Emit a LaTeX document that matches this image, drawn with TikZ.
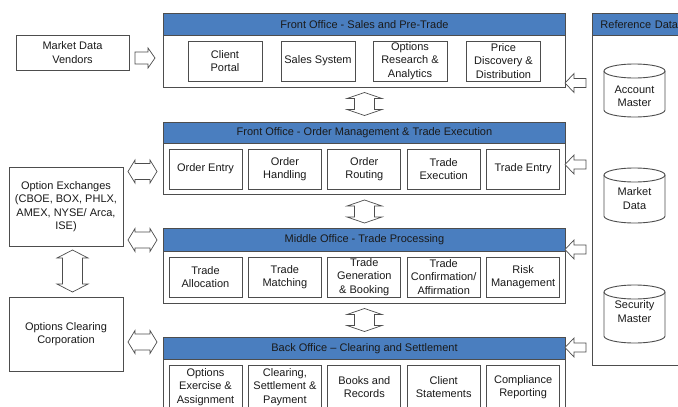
\documentclass[tikz,border=0pt]{standalone}
\usepackage{fontspec}
\setmainfont{Liberation Sans}
\usetikzlibrary{calc}
\definecolor{hdrblue}{HTML}{4A7EBF}
\definecolor{edgegray}{HTML}{4D4D4D}
\definecolor{txt}{HTML}{1A1A1A}
% single block arrow: name, cx, cy, rotate, length, head width, shaft width, head length
\newcommand\sarr[8]{\coordinate (#1) at (#2,#3);
  \draw[blk, shift={(#1)}, rotate=#4] ({-#5/2},{-#7/2}) -- ({#5/2-#8},{-#7/2}) -- ({#5/2-#8},{-#6/2}) -- ({#5/2},0) -- ({#5/2-#8},{#6/2}) -- ({#5/2-#8},{#7/2}) -- ({-#5/2},{#7/2}) -- cycle;}
% double block arrow: same arguments
\newcommand\darr[8]{\coordinate (#1) at (#2,#3);
  \draw[blk, shift={(#1)}, rotate=#4] ({-#5/2},0) -- ({-#5/2+#8},{-#6/2}) -- ({-#5/2+#8},{-#7/2}) -- ({#5/2-#8},{-#7/2}) -- ({#5/2-#8},{-#6/2}) -- ({#5/2},0) -- ({#5/2-#8},{#6/2}) -- ({#5/2-#8},{#7/2}) -- ({-#5/2+#8},{#7/2}) -- ({-#5/2+#8},{#6/2}) -- cycle;}
\begin{document}
\begin{tikzpicture}[x=1pt,y=-1pt,
  font=\fontsize{11}{13.3}\selectfont, text=txt,
  panel/.style={draw=edgegray, line width=0.9pt, fill=white, inner sep=0pt, anchor=north west},
  hdr/.style={draw=edgegray, line width=0.9pt, fill=hdrblue, inner sep=0pt, anchor=north west, minimum height=22pt},
  item/.style={draw=edgegray, line width=0.9pt, fill=white, minimum width=73pt, minimum height=40pt, inner sep=1pt, align=center},
  extbox/.style={draw=edgegray, line width=0.9pt, fill=white, inner sep=1pt, align=center},
  plain/.style={inner sep=0pt, align=center},
  cylline/.style={draw=edgegray, line width=0.9pt},
  blk/.style={draw=edgegray, line width=0.7pt, fill=white, line join=miter},
]
\path[use as bounding box, clip] (0,0) rectangle (678,407);
\fill[white] (0,0) rectangle (678,407);

% ---------- Front office: sales and pre-trade
\node[panel, minimum width=402pt, minimum height=74pt] (fo1) at (163,13) {};
\node[hdr, minimum width=402pt] (fo1h) at (163,13) {Front Office - Sales and Pre-Trade};
\node[item, minimum width=74pt] (cp) at (225,61) {Client\\Portal};
\node[item, minimum width=74pt] (ss) at (318,61) {Sales System};
\node[item, minimum width=74pt] (ora) at (410,61) {Options\\Research \&\\Analytics};
\node[item, minimum width=74pt] (pdd) at (503.5,61) {Price\\Discovery \&\\Distribution};

% ---------- Front office: order management
\node[panel, minimum width=402pt, minimum height=72pt] (fo2) at (163,122) {};
\node[hdr, minimum width=402pt, minimum height=21pt] (fo2h) at (163,122) {Front Office - Order Management \& Trade Execution};
\node[item] (oe) at (205.5,169) {Order Entry};
\node[item] (oh) at (284.9,169) {Order\\Handling};
\node[item] (orr) at (364.3,169) {Order\\Routing};
\node[item] (te) at (443.7,169) {Trade\\Execution};
\node[item] (ten) at (523.1,169) {Trade Entry};

% ---------- Middle office
\node[panel, minimum width=402pt, minimum height=75pt] (mo) at (163,228) {};
\node[hdr, minimum width=402pt, minimum height=23pt] (moh) at (163,228) {Middle Office - Trade Processing};
\node[item] (ta) at (205.5,277) {Trade\\Allocation};
\node[item] (tm) at (284.9,277) {Trade\\Matching};
\node[item] (tg) at (364.3,277) {Trade\\Generation\\\& Booking};
\node[item] (tc) at (443.7,277) {Trade\\Confirmation/\\Affirmation};
\node[item] (rm) at (523.1,277) {Risk\\Management};

% ---------- Back office
\node[panel, minimum width=402pt, minimum height=90pt] (bo) at (163,337) {};
\node[hdr, minimum width=402pt] (boh) at (163,337) {Back Office -- Clearing and Settlement};
\node[item, minimum height=44pt] (oea) at (205.5,387) {Options\\Exercise \&\\Assignment};
\node[item, minimum height=44pt] (csp) at (284.9,387) {Clearing,\\Settlement \&\\Payment};
\node[item, minimum height=44pt] (br) at (364.3,387) {Books and\\Records};
\node[item, minimum height=44pt] (cs) at (443.7,387) {Client\\Statements};
\node[item, minimum height=44pt] (cr) at (523.1,387) {Compliance\\Reporting};

% ---------- Reference data
\node[panel, minimum width=110pt, minimum height=352pt] (ref) at (592,13) {};
\node[hdr, inner xsep=8pt, text width=94pt, align=left] (refh) at (592,13) {Reference Data};
\draw[cylline, fill=white] (604,71) -- (604,110) arc(180:360:30.5pt and 7pt) -- (665,71) arc(0:180:30.5pt and 7pt) -- cycle;
\draw[cylline] (604,71) arc(180:360:30.5pt and 7pt);
\node[plain] (acct) at (634.5,96) {Account\\Master};
\draw[cylline, fill=white] (604,175) -- (604,216) arc(180:360:30.5pt and 7pt) -- (665,175) arc(0:180:30.5pt and 7pt) -- cycle;
\draw[cylline] (604,175) arc(180:360:30.5pt and 7pt);
\node[plain] (mkt) at (634.5,198.5) {Market\\Data};
\draw[cylline, fill=white] (604,292) -- (604,336) arc(180:360:30.5pt and 7pt) -- (665,292) arc(0:180:30.5pt and 7pt) -- cycle;
\draw[cylline] (604,292) arc(180:360:30.5pt and 7pt);
\node[plain] (sec) at (634.5,311.5) {Security\\Master};

% ---------- Left boxes
\node[extbox, minimum width=113pt, minimum height=35pt] (mdv) at (72.5,52.5) {Market Data\\Vendors};
\node[extbox, minimum width=114pt, minimum height=79pt] (oex) at (66,206.5) {Option Exchanges\\(CBOE, BOX, PHLX,\\AMEX, NYSE/ Arca,\\ISE)};
\node[extbox, minimum width=114pt, minimum height=74pt] (occ) at (66,334) {Options Clearing\\Corporation};

% ---------- Block arrows
\sarr{a1}{145}{58}{0}{20}{20}{12}{7}
\sarr{r1}{575.5}{83}{180}{21}{19}{9}{9}
\sarr{r2}{575.5}{164.5}{180}{21}{19}{9}{9}
\sarr{r3}{575.5}{249.5}{180}{21}{19}{9}{9}
\sarr{r4}{575.5}{347.5}{180}{21}{19}{9}{9}
\darr{v1}{364.5}{104}{90}{23}{35}{20}{6}
\darr{v2}{364.5}{211.5}{90}{23}{35}{20}{6}
\darr{v3}{364.5}{320}{90}{23}{35}{20}{6}
\darr{h1}{142.5}{171.5}{0}{29}{23}{16}{7}
\darr{h2}{142.5}{240}{0}{29}{23}{16}{7}
\darr{h3}{142.5}{342}{0}{29}{23}{16}{7}
\darr{v4}{72.5}{271}{90}{42}{31}{20}{8}
\end{tikzpicture}
\end{document}
